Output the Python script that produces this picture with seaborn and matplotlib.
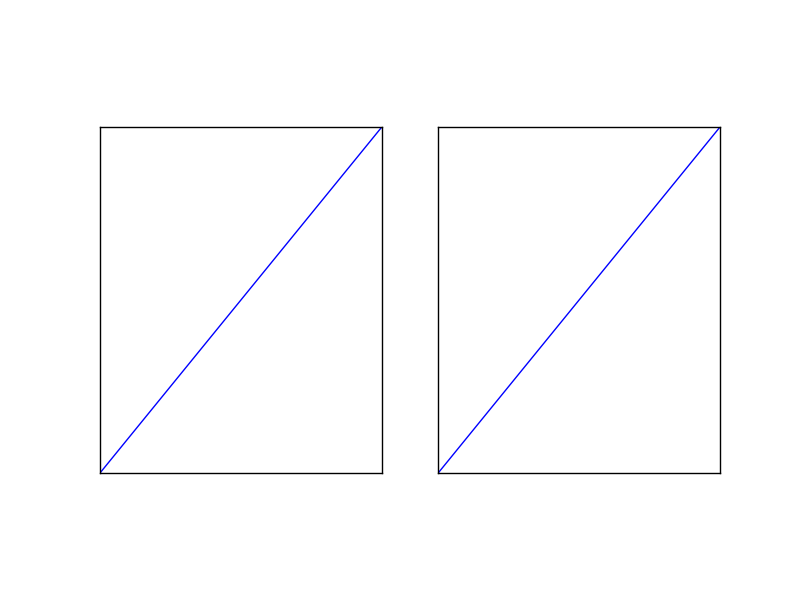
import matplotlib
matplotlib.use("Agg")
import matplotlib.pyplot as plt
import seaborn as sns

sns.set_style("white")

# two identical diagonal lines
x_vals = [0, 1]
y_vals = [0, 1]
panels = ["left", "right"]

fig, axes = plt.subplots(1, 2, figsize=(8, 6), dpi=100)
fig.subplots_adjust(left=0.125, right=0.9, bottom=1 - 473 / 600, top=1 - 127 / 600, wspace=0.2)

for ax, name in zip(axes, panels):
    sns.lineplot(x=x_vals, y=y_vals, ax=ax, color="blue", linewidth=1)
    ax.set_xlim(0, 1)
    ax.set_ylim(0, 1)
    ax.set_xticks([])
    ax.set_yticks([])
    for sp in ax.spines.values():
        sp.set_color("black")
        sp.set_linewidth(1)

fig.savefig("out.png", dpi=100, facecolor="white")
